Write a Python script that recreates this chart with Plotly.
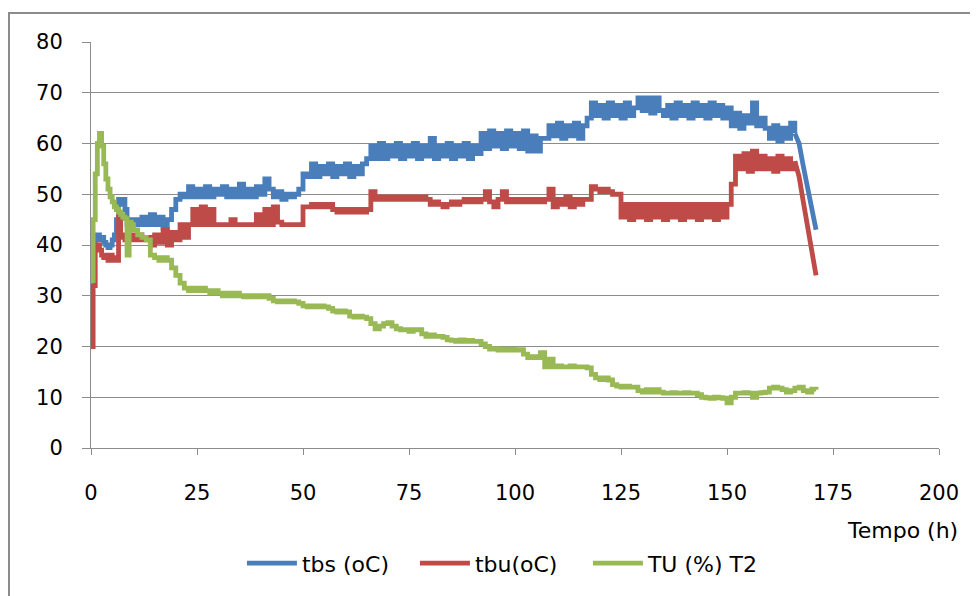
"""Excel-style line chart: tbs, tbu and TU over drying time."""

import plotly.graph_objects as go

# Excel 2007 palette
_COLOUR_TBS = "#4A7EBB"
_COLOUR_TBU = "#BE4B48"
_COLOUR_TU = "#98B954"
_GRID = "#8C8C8C"
_FONT = "DejaVu Sans, sans-serif"

# Time axis (h): half-hour samples for the first 10 h, then hourly
tempo = [0, 0.5, 1, 1.5, 2, 2.5, 3, 3.5, 4, 4.5, 5, 5.5, 6, 6.5, 7, 7.5, 8, 8.5, 9, 9.5, 10] + list(range(11, 172))

# tbs (oC) - dry bulb temperature
tbs = [
    33, 39, 41, 42, 41, 41.5, 40.5, 40, 39.5, 40, 41, 42, 45, 49, 48, 49, 47, 44, 45, 44, 45,
    44, 45.5, 44, 46, 44, 45.5, 43.5, 45, 47, 49,
    50, 49.5, 51.5, 49.5, 51, 49.5, 51.5, 49.5, 51, 50,
    51.5, 49.5, 51, 49.5, 52, 49.5, 51, 49.5, 51.5, 50,
    53, 51, 49.5, 50.5, 49, 50, 49.5, 50, 51, 54,
    53.5, 56, 53.5, 55.5, 54, 56, 53.5, 55.5, 54, 56,
    53.5, 55.5, 54, 56, 57, 59.5, 57, 60, 57, 59.5,
    57.5, 60, 57, 59.5, 57.5, 60, 57, 59.5, 57.5, 61,
    57, 59.5, 57.5, 60, 57, 59.5, 57.5, 60, 57, 59.5,
    58, 62, 59, 62.5, 59.5, 62, 59, 62.5, 59.5, 62,
    59, 62.5, 58.5, 61.5, 58.5, 61, 61, 63.5, 61.5, 64,
    61, 63.5, 61.5, 64, 61, 63.5, 65, 68, 65.5, 67.5,
    65, 68, 65.5, 67.5, 65, 68, 65.5, 67, 69, 66.5,
    69, 66, 69, 66.5, 65.5, 67.5, 65, 68, 65.5, 67.5,
    65, 68, 65.5, 67.5, 65, 68, 65.5, 67.5, 65, 67,
    63.5, 66, 63, 65.5, 64, 68, 63.5, 65, 63, 61,
    63.5, 60.5, 63, 61, 64, 62, 60, 55.5, 51, 47, 43,
]

# tbu (oC) - wet bulb temperature
tbu = [
    20, 32, 39.5, 40, 39, 38, 37.5, 38, 37, 38, 37, 37.5, 37, 45.5, 41.5, 42, 41, 42, 41, 42, 41,
    42, 41, 41.5, 40, 42, 40.5, 43, 40, 42.5, 41,
    44, 41.5, 44, 47, 44, 47.5, 44, 47, 44, 44,
    44, 44, 45, 44, 44, 44, 44, 44, 46, 44,
    47, 44, 47.5, 44.5, 44, 44, 44, 44, 44, 47.5,
    47.5, 48, 47.5, 48, 47.5, 48, 47, 46.5, 47, 46.5,
    47, 46.5, 47, 46.5, 47, 50.5, 49, 49.5, 49, 49.5,
    49, 49.5, 49, 49.5, 49, 49.5, 49, 49.5, 49, 48,
    48.5, 48, 47.5, 48, 48.5, 48, 48.5, 49, 48.5, 49,
    48.5, 49, 50.5, 48.5, 47.5, 49, 50.5, 48.5, 49, 48.5,
    49, 48.5, 49, 48.5, 49, 48.5, 49, 51, 47.5, 49,
    48, 49.5, 47.5, 49, 48, 49, 49, 51.5, 51, 50.5,
    51, 50.5, 50, 50, 45.5, 48, 45, 48, 45.5, 48,
    45, 48, 45.5, 48, 45, 48, 45.5, 48, 45, 48,
    45.5, 48, 45, 48, 45.5, 48, 45, 48, 45.5, 48,
    52, 57.5, 55, 58, 54.5, 58.5, 55, 57.5, 55, 57,
    54.5, 57.5, 55, 57, 55, 56.5, 53.5, 48.5, 43.5, 38, 34,
]

# TU (%) T2 - moisture content
tu = [
    33, 45, 54, 60, 62, 59.5, 56, 53, 51, 49.5, 48.5, 47.5, 47, 46.5, 46, 45.5, 45.2, 38, 44.5, 44, 43,
    42, 41.5, 41, 38, 37.5, 37, 37.5, 37, 35.5, 34,
    32.5, 31.5, 31, 31.5, 31, 31.5, 31, 30.5, 31, 30.5,
    30, 30.5, 30, 30.5, 30, 29.8, 30, 29.8, 30, 29.8,
    30, 29.5, 29, 28.8, 29, 28.8, 29, 28.8, 28.5, 28,
    27.8, 28, 27.8, 28, 27.8, 27.5, 27, 26.8, 27, 26.8,
    26, 25.8, 26, 25.8, 25.5, 24.5, 23.5, 24, 24.5, 24.7,
    24, 23.5, 23.3, 23.3, 23, 23.3, 23.3, 22.5, 22, 22.3,
    22, 22, 21.8, 21.3, 21.2, 21, 21.3, 21, 21.2, 21,
    21, 20.5, 20, 19.5, 19.6, 19.3, 19.5, 19.3, 19.5, 19.3,
    19.4, 18.5, 17.8, 18, 17.8, 18.8, 16, 17.5, 16, 16.2,
    16, 16, 16.2, 16, 16, 16, 15.8, 14.5, 13.8, 13.5,
    13.8, 13.4, 12.5, 12.2, 12, 12.2, 12, 12, 11.3, 11,
    11.5, 11, 11.5, 11, 10.8, 10.8, 10.9, 10.8, 10.8, 10.9,
    10.8, 10.8, 10.5, 10, 9.9, 9.8, 10, 9.9, 9.8, 8.9,
    10, 10.8, 10.8, 10.9, 10.8, 10, 10.8, 10.9, 11, 11.8,
    12, 11.8, 11.5, 11, 11.3, 11.8, 12, 11.3, 11, 11.6, 11.5,
]

x_ticks = [0, 25, 50, 75, 100, 125, 150, 175, 200]
y_ticks = [0, 10, 20, 30, 40, 50, 60, 70, 80]

# Last 5 h are a steady cool-down ramp, drawn straight instead of stepped
n_ramp = 6

fig = go.Figure()
for name, values, colour, ramp in [
    ("tbs (oC)", tbs, _COLOUR_TBS, True),
    ("tbu(oC)", tbu, _COLOUR_TBU, True),
    ("TU (%) T2", tu, _COLOUR_TU, False),
]:
    end = len(tempo) - n_ramp + 1 if ramp else len(tempo)
    fig.add_trace(
        go.Scatter(
            x=tempo[:end],
            y=values[:end],
            mode="lines",
            name=name,
            legendgroup=name,
            line={"color": colour, "width": 4.8, "shape": "hv"},
        )
    )
    if ramp:
        fig.add_trace(
            go.Scatter(
                x=tempo[-n_ramp:],
                y=values[-n_ramp:],
                mode="lines",
                name=name,
                legendgroup=name,
                showlegend=False,
                line={"color": colour, "width": 4.8},
            )
        )

fig.update_layout(
    width=970,
    height=588,
    margin={"l": 83, "r": 39, "t": 34, "b": 148},
    paper_bgcolor="white",
    plot_bgcolor="white",
    font={"family": _FONT, "size": 21, "color": "#000000"},
    showlegend=True,
    legend={
        "orientation": "h",
        "x": 0.484,
        "xanchor": "center",
        "y": -0.284,
        "yanchor": "middle",
        "font": {"size": 22},
        "itemwidth": 50,
        "entrywidth": 108,
        "entrywidthmode": "pixels",
    },
    xaxis={
        "range": [0, 200],
        "tickvals": x_ticks,
        "ticks": "outside",
        "ticklen": 6,
        "tickcolor": _GRID,
        "showline": True,
        "linecolor": _GRID,
        "showgrid": False,
        "zeroline": False,
        "ticklabelstandoff": 20,
    },
    yaxis={
        "range": [0, 80],
        "tickvals": y_ticks,
        "ticks": "outside",
        "ticklen": 8,
        "tickcolor": _GRID,
        "showline": True,
        "linecolor": _GRID,
        "showgrid": True,
        "gridcolor": _GRID,
        "gridwidth": 1,
        "zeroline": False,
        "ticklabelstandoff": 15,
    },
    annotations=[
        {
            "text": "Tempo (h)",
            "xref": "paper",
            "yref": "paper",
            "x": 1.025,
            "y": -0.202,
            "xanchor": "right",
            "yanchor": "middle",
            "showarrow": False,
            "font": {"size": 22},
        }
    ],
    shapes=[
        {
            "type": "rect",
            "xref": "paper",
            "yref": "paper",
            "x0": -0.0967,
            "x1": 1.2,
            "y0": -0.6,
            "y1": 1.0714,
            "line": {"color": "#8C8C8C", "width": 2},
        }
    ],
)

fig.write_html("out.html")
